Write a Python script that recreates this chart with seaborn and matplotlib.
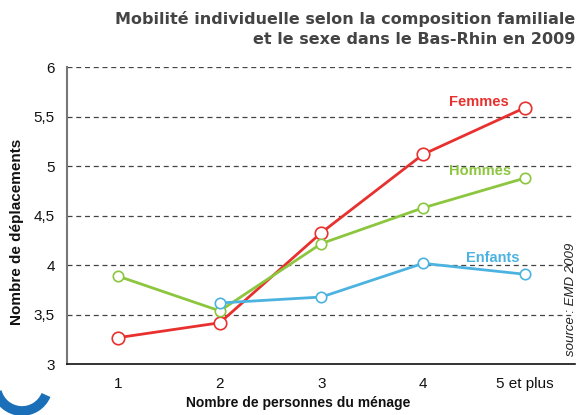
import matplotlib
matplotlib.use("Agg")
import matplotlib.pyplot as plt
import seaborn as sns
import pandas as pd
import numpy as np
from matplotlib.patches import Arc

categories = ["1", "2", "3", "4", "5 et plus"]
femmes = [3.27, 3.42, 4.33, 5.12, 5.59]
hommes = [3.89, 3.54, 4.22, 4.58, 4.88]
enfants = [np.nan, 3.62, 3.68, 4.02, 3.91]
series_names = ["Femmes", "Hommes", "Enfants"]
y_ticks = [3, 3.5, 4, 4.5, 5, 5.5, 6]
y_tick_labels = ["3", "3,5", "4", "4,5", "5", "5,5", "6"]

colors = {"Femmes": "#e8312f", "Hommes": "#8cc63e", "Enfants": "#4cb3e0"}
msizes = {"Femmes": 9, "Hommes": 7.5, "Enfants": 7.5}

sns.set_theme(style="white")
plt.rcParams["font.family"] = ["Liberation Sans", "DejaVu Sans"]

fig = plt.figure(figsize=(5.76, 4.15), dpi=100)
ax = fig.add_axes([0.117, 0.122, 0.882, 0.716])

df = pd.DataFrame({"cat": categories * 3,
                   "val": femmes + hommes + enfants,
                   "serie": sum([[s] * len(categories) for s in series_names], [])})

for s in series_names:
    sub = df[df["serie"] == s].copy()
    sub["pos"] = range(len(categories))
    sub = sub.dropna()
    sns.lineplot(data=sub, x="pos", y="val", ax=ax, color=colors[s], lw=2,
                 marker="o", markersize=msizes[s], markerfacecolor="white",
                 markeredgecolor=colors[s], markeredgewidth=1.2, zorder=3)

ax.set_xlim(-0.5, len(categories) - 0.5)
ax.set_ylim(3, 6)
ax.set_yticks(y_ticks)
ax.set_yticklabels(y_tick_labels, fontsize=11)
ax.set_xticks(range(len(categories)))
ax.set_xticklabels(categories, fontsize=11)
ax.set_xticks(np.arange(-0.5, len(categories), 1.0), minor=True)
ax.tick_params(axis="x", which="major", length=0, pad=9, colors="#111111")
ax.tick_params(axis="x", which="minor", length=5, width=1, color="#222222", direction="in")
ax.tick_params(axis="y", which="major", length=5, width=1, color="#555555", pad=4, colors="#111111")

for y in y_ticks[1:]:
    ax.axhline(y, color="#444444", lw=0.9, ls=(0, (4, 3)), zorder=1)

for sp in ["top", "right"]:
    ax.spines[sp].set_visible(False)
ax.spines["left"].set_color("#777777")
ax.spines["left"].set_linewidth(1.5)
ax.spines["bottom"].set_color("#111111")
ax.spines["bottom"].set_linewidth(1.2)

ax.set_xlabel("")
ax.set_ylabel("")
fig.text(298 / 576, 1 - 403 / 415, "Nombre de personnes du ménage", fontsize=10,
         fontweight="bold", ha="center", va="center", color="#111111")
fig.text(17 / 576, 1 - 232 / 415, "Nombre de déplacements", fontsize=11,
         fontweight="bold", ha="center", va="center", rotation=90, color="#111111")

ax.text(3.55, 5.645, "Femmes", color=colors["Femmes"], fontsize=10.5, fontweight="bold", ha="center", va="center")
ax.text(3.56, 4.95, "Hommes", color=colors["Hommes"], fontsize=10.5, fontweight="bold", ha="center", va="center")
ax.text(3.69, 4.075, "Enfants", color=colors["Enfants"], fontsize=10.5, fontweight="bold", ha="center", va="center")

ax.text(4.46, 3.66, "source : EMD 2009", rotation=90, fontsize=9.5, fontstyle="italic",
        color="#222222", ha="center", va="center")

fig.text(0.999, 1 - 29 / 415, "Mobilité individuelle selon la composition familiale\net le sexe dans le Bas-Rhin en 2009",
         ha="right", va="center", fontsize=11.5, fontweight="bold", color="#444444",
         family=["DejaVu Sans"], linespacing=1.4)

logo = Arc((22 / 576, 30 / 415), 52 / 576, 52 / 415, theta1=200, theta2=330,
           transform=fig.transFigure, color="#1a6fb8", lw=7)
fig.add_artist(logo)

fig.savefig("out.png", dpi=100)
